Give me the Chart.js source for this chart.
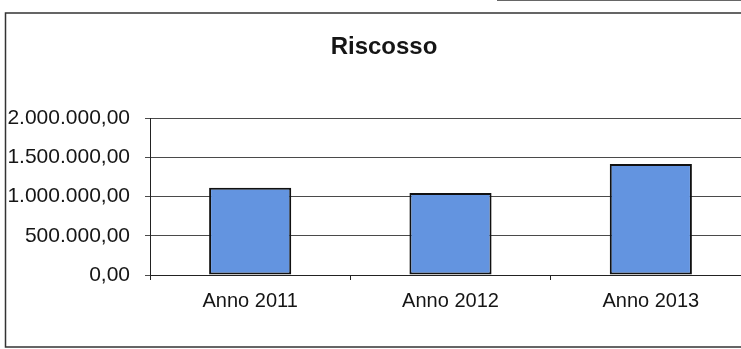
<!DOCTYPE html>
<html>
<head>
<meta charset="utf-8">
<title>Riscosso</title>
<script src="https://cdn.jsdelivr.net/npm/chart.js@4/dist/chart.umd.min.js"></script>
<style>
  html, body { margin: 0; padding: 0; background: #fff; overflow: hidden; }
  #wrap { width: 741px; height: 349px; overflow: hidden; }
  canvas { display: block; }
</style>
</head>
<body>
<div id="wrap"><canvas id="c" width="760" height="349"></canvas></div>
<script>
// Amounts collected per year (euro)
const categories = ['Anno 2011', 'Anno 2012', 'Anno 2013'];
const riscosso = [1110000, 1045000, 1415000];
const yTicks = [0, 500000, 1000000, 1500000, 2000000];
const chartTitle = 'Riscosso';

const FONT = '"Liberation Sans", Arial, sans-serif';

// Italian number format: 1.500.000,00
function formatIt(v) {
  const fixed = Number(v).toFixed(2);
  const [intPart, dec] = fixed.split('.');
  const grouped = intPart.replace(/\B(?=(\d{3})+(?!\d))/g, '.');
  return grouped + ',' + dec;
}

// Outer frame and centred bold title
const framePlugin = {
  id: 'frameAndTitle',
  beforeDraw(chart) {
    const ctx = chart.ctx;
    ctx.save();
    ctx.fillStyle = '#ffffff';
    ctx.fillRect(0, 0, chart.width, chart.height);
    ctx.strokeStyle = '#333333';
    ctx.lineWidth = 1.5;
    ctx.strokeRect(5.5, 13, chart.width + 20, 334);
    ctx.strokeStyle = '#666666';
    ctx.lineWidth = 1;
    ctx.beginPath();
    ctx.moveTo(497, 0.5);
    ctx.lineTo(chart.width, 0.5);
    ctx.stroke();
    ctx.restore();
  },
  afterDraw(chart) {
    const ctx = chart.ctx;
    ctx.save();
    ctx.fillStyle = '#151515';
    ctx.font = 'bold 24px ' + FONT;
    ctx.textAlign = 'center';
    ctx.textBaseline = 'middle';
    ctx.fillText(chartTitle, 384, 47);
    ctx.restore();
  }
};

new Chart(document.getElementById('c'), {
  type: 'bar',
  data: {
    labels: categories,
    datasets: [{
      label: chartTitle,
      data: riscosso,
      backgroundColor: '#6394e0',
      borderColor: '#111111',
      borderWidth: 2,
      borderSkipped: false,
      categoryPercentage: 1,
      barPercentage: 0.41
    }]
  },
  options: {
    responsive: false,
    animation: false,
    devicePixelRatio: 1,
    layout: { padding: { top: 118, left: 0, right: 9, bottom: 0 } },
    plugins: {
      legend: { display: false },
      title: { display: false },
      tooltip: { enabled: false }
    },
    scales: {
      x: {
        afterFit(scale) { scale.height = 74; },
        grid: {
          display: true,
          drawOnChartArea: false,
          drawTicks: true,
          tickLength: 5,
          color: '#222222',
          offset: true
        },
        border: { display: true, color: '#222222', width: 1 },
        ticks: {
          color: '#151515',
          padding: 9,
          font: { family: FONT, size: 20 }
        }
      },
      y: {
        min: 0,
        max: 2000000,
        afterFit(scale) { scale.width = 150; },
        afterBuildTicks(scale) { scale.ticks = yTicks.map(v => ({ value: v })); },
        grid: {
          color: '#4a4a4a',
          lineWidth: 1,
          drawTicks: true,
          tickLength: 5
        },
        border: { display: true, color: '#222222', width: 1 },
        ticks: {
          color: '#151515',
          padding: 15,
          font: { family: FONT, size: 21 },
          callback: (v) => formatIt(v)
        }
      }
    }
  },
  plugins: [framePlugin]
});
</script>
</body>
</html>
